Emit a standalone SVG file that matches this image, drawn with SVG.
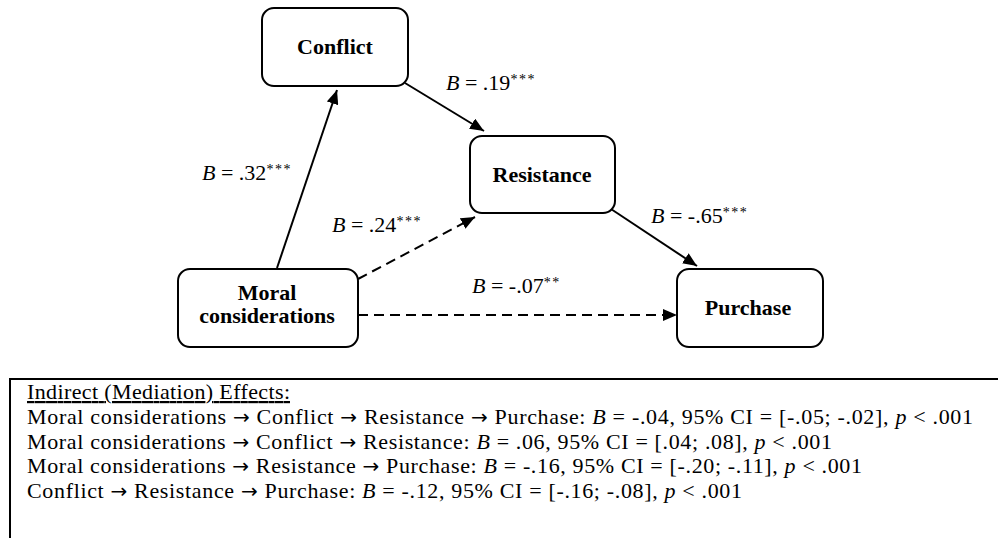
<svg xmlns="http://www.w3.org/2000/svg" width="998" height="538" viewBox="0 0 998 538">
<style>
text{font-family:'Liberation Serif','DejaVu Serif',serif}
.node rect{fill:#fff;stroke:#000;stroke-width:2}
.nl{font-size:22px;font-weight:bold;text-anchor:middle;fill:#000}
.lab{font-size:22px;fill:#000}
.sup{font-size:14px;letter-spacing:1.5px}
.edge{stroke:#000;stroke-width:2;fill:none;marker-end:url(#ah)}
.dash{stroke-dasharray:10 6}
.it{font-style:italic}
.ar{font-family:'DejaVu Sans',sans-serif;font-size:20px}
.box{fill:none;stroke:#000;stroke-width:2}
.bt{font-size:22px;fill:#000}
</style>
<defs>
<marker id="ah" markerUnits="userSpaceOnUse" viewBox="0 0 14 12" refX="14" refY="6" markerWidth="14" markerHeight="12" orient="auto">
<path d="M0,0 L14,6 L0,12 z" fill="#000"/>
</marker>
</defs>
<rect width="998" height="538" fill="#fff"/>
<g id="connectors">
<line class="edge" x1="277" y1="268" x2="337" y2="90"/>
<line class="edge" x1="405" y1="83" x2="484" y2="131"/>
<line class="edge dash" x1="358" y1="279" x2="475" y2="217"/>
<line class="edge" x1="611" y1="209" x2="697" y2="266"/>
<line class="edge dash" x1="358" y1="315" x2="677" y2="315"/>
</g>
<g id="edge-labels">
<text class="lab" x="446" y="90"><tspan class="it">B</tspan> = .19<tspan class="sup" dy="-6">***</tspan></text>
<text class="lab" x="202" y="180"><tspan class="it">B</tspan> = .32<tspan class="sup" dy="-6">***</tspan></text>
<text class="lab" x="332" y="232"><tspan class="it">B</tspan> = .24<tspan class="sup" dy="-6">***</tspan></text>
<text class="lab" x="472" y="293"><tspan class="it">B</tspan> = -.07<tspan class="sup" dy="-6">**</tspan></text>
<text class="lab" x="651" y="223"><tspan class="it">B</tspan> = -.65<tspan class="sup" dy="-6">***</tspan></text>
</g>
<g id="node-conflict" class="node">
<rect x="262" y="8" width="146" height="78" rx="12"/>
<text class="nl" x="335" y="54">Conflict</text>
</g>
<g id="node-resistance" class="node">
<rect x="470" y="136" width="145" height="77" rx="12"/>
<text class="nl" x="542" y="182">Resistance</text>
</g>
<g id="node-moral" class="node">
<rect x="178" y="269" width="180" height="78" rx="12"/>
<text class="nl" x="267" y="300">Moral</text>
<text class="nl" x="267" y="323">considerations</text>
</g>
<g id="node-purchase" class="node">
<rect x="677" y="269" width="146" height="78" rx="12"/>
<text class="nl" x="748" y="315">Purchase</text>
</g>
<g id="indirect-effects">
<rect class="box" x="10" y="379" width="1000" height="200"/>
<text class="bt" x="27" y="399" text-decoration="underline" textLength="263" lengthAdjust="spacing">Indirect (Mediation) Effects:</text>
<text class="bt" x="27" y="424" textLength="946" lengthAdjust="spacing">Moral considerations <tspan class="ar">→</tspan> Conflict <tspan class="ar">→</tspan> Resistance <tspan class="ar">→</tspan> Purchase: <tspan class="it">B</tspan> = -.04, 95% CI = [-.05; -.02], <tspan class="it">p</tspan> &lt; .001</text>
<text class="bt" x="27" y="449" textLength="805" lengthAdjust="spacing">Moral considerations <tspan class="ar">→</tspan> Conflict <tspan class="ar">→</tspan> Resistance: <tspan class="it">B</tspan> = .06, 95% CI = [.04; .08], <tspan class="it">p</tspan> &lt; .001</text>
<text class="bt" x="27" y="473" textLength="835" lengthAdjust="spacing">Moral considerations <tspan class="ar">→</tspan> Resistance <tspan class="ar">→</tspan> Purchase: <tspan class="it">B</tspan> = -.16, 95% CI = [-.20; -.11], <tspan class="it">p</tspan> &lt; .001</text>
<text class="bt" x="27" y="498" textLength="715" lengthAdjust="spacing">Conflict <tspan class="ar">→</tspan> Resistance <tspan class="ar">→</tspan> Purchase: <tspan class="it">B</tspan> = -.12, 95% CI = [-.16; -.08], <tspan class="it">p</tspan> &lt; .001</text>
</g>
</svg>
